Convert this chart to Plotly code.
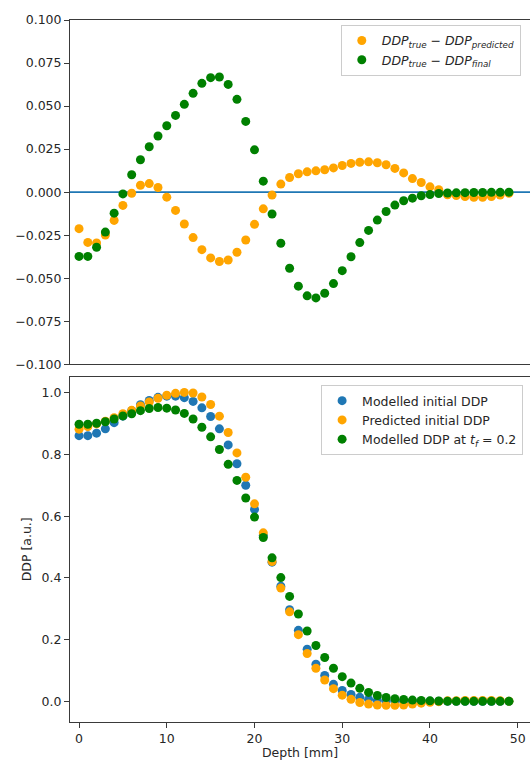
import plotly.graph_objects as go

depth = [0, 1, 2, 3, 4, 5, 6, 7, 8, 9, 10, 11, 12, 13, 14, 15, 16, 17, 18, 19,
         20, 21, 22, 23, 24, 25, 26, 27, 28, 29, 30, 31, 32, 33, 34, 35, 36, 37, 38, 39,
         40, 41, 42, 43, 44, 45, 46, 47, 48, 49]

diff_pred = [-0.0212, -0.0292, -0.0295, -0.0249, -0.0164, -0.0077, -0.0006, 0.0040, 0.0050, 0.0027,
             -0.0029, -0.0106, -0.0185, -0.0264, -0.0334, -0.0382, -0.0403, -0.0394, -0.0349, -0.0278,
             -0.0187, -0.0097, -0.0017, 0.0047, 0.0085, 0.0107, 0.0118, 0.0124, 0.0130, 0.0141,
             0.0155, 0.0167, 0.0174, 0.0176, 0.0171, 0.0159, 0.0138, 0.0112, 0.0079, 0.0056,
             0.0031, 0.0014, -0.0015, -0.0020, -0.0025, -0.0030, -0.0030, -0.0025, -0.0017, -0.0006]

diff_final = [-0.0373, -0.0373, -0.0320, -0.0232, -0.0122, -0.0010, 0.0101, 0.0188, 0.0264, 0.0326,
              0.0386, 0.0446, 0.0510, 0.0574, 0.0632, 0.0665, 0.0669, 0.0626, 0.0539, 0.0411,
              0.0246, 0.0064, -0.0127, -0.0297, -0.0442, -0.0546, -0.0602, -0.0614, -0.0587, -0.0531,
              -0.0456, -0.0375, -0.0293, -0.0222, -0.0162, -0.0112, -0.0075, -0.0050, -0.0035, -0.0021,
              -0.0014, -0.0008, -0.0005, -0.0004, -0.0003, -0.0002, -0.0002, -0.0001, -0.0001, 0.0000]

modelled_initial = [0.861, 0.861, 0.869, 0.883, 0.903, 0.924, 0.942, 0.961, 0.975, 0.985,
                    0.989, 0.989, 0.984, 0.972, 0.951, 0.923, 0.883, 0.831, 0.770, 0.700,
                    0.622, 0.537, 0.451, 0.373, 0.297, 0.230, 0.169, 0.120, 0.084, 0.055,
                    0.035, 0.022, 0.013, 0.0065, 0.003, 0.0015, 0.001, 0.0005, 0.0005, 0.0003,
                    0.0002, 0.0001, 0.0, 0.0, 0.0, 0.0, 0.0, 0.0, 0.0, 0.0]

predicted_initial = [0.882, 0.890, 0.899, 0.908, 0.919, 0.932, 0.943, 0.957, 0.970, 0.982,
                     0.992, 0.998, 1.001, 0.999, 0.986, 0.962, 0.924, 0.871, 0.805, 0.726,
                     0.640, 0.546, 0.453, 0.367, 0.290, 0.216, 0.155, 0.107, 0.069, 0.041,
                     0.020, 0.0065, -0.004, -0.009, -0.012, -0.013, -0.013, -0.012, -0.009, -0.006,
                     -0.003, -0.001, 0.0015, 0.002, 0.0025, 0.003, 0.003, 0.0025, 0.0017, 0.0006]

modelled_final = [0.898, 0.898, 0.901, 0.906, 0.915, 0.925, 0.932, 0.942, 0.949, 0.952,
                  0.950, 0.944, 0.933, 0.915, 0.888, 0.857, 0.816, 0.768, 0.716, 0.659,
                  0.597, 0.531, 0.465, 0.401, 0.340, 0.283, 0.228, 0.181, 0.142, 0.107,
                  0.080, 0.059, 0.042, 0.029, 0.019, 0.0125, 0.0085, 0.006, 0.004, 0.0025,
                  0.0015, 0.001, 0.0005, 0.0, 0.0, 0.0, 0.0, 0.0, 0.0, 0.0]

top_ticks = [-0.100, -0.075, -0.050, -0.025, 0.000, 0.025, 0.050, 0.075, 0.100]
bottom_ticks = [0.0, 0.2, 0.4, 0.6, 0.8, 1.0]
x_ticks = [0, 10, 20, 30, 40, 50]

BLUE = "#1f77b4"
ORANGE = "#ffa500"
GREEN = "#008000"
FONT = "DejaVu Sans"
FS = 12.5
SPINE = "#3a3a3a"
MS = 9

fig = go.Figure()

fig.add_trace(go.Scatter(
    x=depth, y=diff_pred, mode="markers", xaxis="x", yaxis="y",
    marker=dict(color=ORANGE, size=MS, line=dict(width=0)),
    name="<i>DDP</i><sub><i>true</i></sub> − <i>DDP</i><sub><i>predicted</i></sub>",
    legend="legend"))
fig.add_trace(go.Scatter(
    x=depth, y=diff_final, mode="markers", xaxis="x", yaxis="y",
    marker=dict(color=GREEN, size=MS, line=dict(width=0)),
    name="<i>DDP</i><sub><i>true</i></sub> − <i>DDP</i><sub><i>final</i></sub>",
    legend="legend"))

fig.add_trace(go.Scatter(
    x=depth, y=modelled_initial, mode="markers", xaxis="x2", yaxis="y2",
    marker=dict(color=BLUE, size=MS, line=dict(width=0)),
    name="Modelled initial DDP", legend="legend2"))
fig.add_trace(go.Scatter(
    x=depth, y=predicted_initial, mode="markers", xaxis="x2", yaxis="y2",
    marker=dict(color=ORANGE, size=MS, line=dict(width=0)),
    name="Predicted initial DDP", legend="legend2"))
fig.add_trace(go.Scatter(
    x=depth, y=modelled_final, mode="markers", xaxis="x2", yaxis="y2",
    marker=dict(color=GREEN, size=MS, line=dict(width=0)),
    name="Modelled DDP at <i>t</i><sub><i>f</i></sub> = 0.2", legend="legend2"))

fig.add_shape(type="line", xref="x domain", yref="y", x0=0, x1=1, y0=0, y1=0,
              line=dict(color=BLUE, width=1.6), layer="below")

xr = [-1.03, 51.40]
axis_common = dict(showgrid=False, zeroline=False, showline=True, linecolor=SPINE,
                   linewidth=1, tickcolor=SPINE, ticklen=5, tickwidth=1,
                   tickfont=dict(family=FONT, size=FS, color="#262626"))

fig.update_layout(
    width=530, height=760,
    margin=dict(l=70, r=0, t=20, b=38),
    paper_bgcolor="white", plot_bgcolor="white",
    font=dict(family=FONT, size=FS, color="#262626"),
    showlegend=True,
    xaxis=dict(domain=[0, 1], range=xr, anchor="y", mirror=True,
               ticks="", showticklabels=False, **{k: v for k, v in axis_common.items() if k not in ("ticklen",)}),
    yaxis=dict(domain=[0.5095, 1.0], range=[-0.1, 0.1], anchor="x",
               tickmode="array", tickvals=top_ticks, tickformat=".3f", ticks="outside",
               **axis_common),
    xaxis2=dict(domain=[0, 1], range=xr, anchor="y2", mirror=True,
                tickmode="array", tickvals=x_ticks, ticks="outside",
                title=dict(text="Depth [mm]", font=dict(family=FONT, size=FS, color="#262626"), standoff=4),
                **axis_common),
    yaxis2=dict(domain=[0, 0.4919], range=[-0.067, 1.052], anchor="x2",
                tickmode="array", tickvals=bottom_ticks, tickformat=".1f", ticks="outside",
                title=dict(text="DDP [a.u.]", font=dict(family=FONT, size=FS, color="#262626"), standoff=7),
                **axis_common),
    legend=dict(x=0.980, y=0.993, xanchor="right", yanchor="top",
                bgcolor="rgba(255,255,255,0.85)", bordercolor="#cccccc", borderwidth=1,
                font=dict(family=FONT, size=FS, color="#262626")),
    legend2=dict(x=0.985, y=0.480, xanchor="right", yanchor="top",
                 bgcolor="rgba(255,255,255,0.85)", bordercolor="#cccccc", borderwidth=1,
                 font=dict(family=FONT, size=FS, color="#262626")),
)

fig.write_html("out.html")
